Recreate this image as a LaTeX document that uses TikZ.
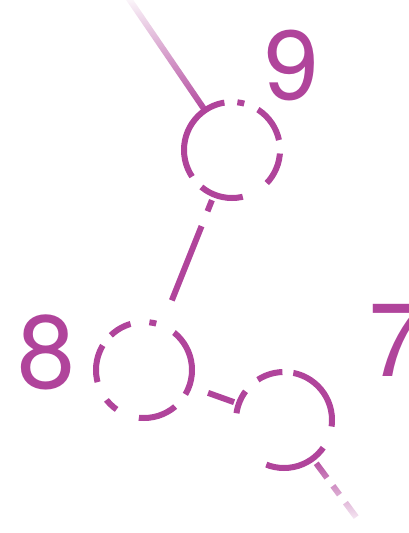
\documentclass[tikz,border=0pt]{standalone}
\usepackage{fontspec}
\setmainfont{TeX Gyre Heros}
\usepackage{tikz}
\usetikzlibrary{fadings}
\definecolor{plum}{HTML}{B0449B}
\tikzfading[name=fade up, top color=transparent!100, bottom color=transparent!0]
\tikzfading[name=fade down, top color=transparent!0, bottom color=transparent!100]

\begin{document}
\begin{tikzpicture}[x=1pt,y=-1pt,
    ring/.style={circle,draw=plum,line width=6pt,minimum size=96pt,inner sep=0pt,outer sep=0pt},
    num/.style={text=plum,inner sep=0pt,font=\fontsize{104}{104}\selectfont},
    link/.style={draw=plum,line width=6pt}]
  \useasboundingbox (0,0) rectangle (408,533);
  % broken rings, dashes counted from east, anticlockwise
  \node[ring,dash pattern=on 0pt off 10pt on 38pt off 15pt on 7pt off 13pt on 96pt off 14pt on 44pt off 28pt on 33pt off 3pt] (n9) at (232,150) {};
  \node[ring,dash pattern=on 43pt off 20pt on 7pt off 19pt on 23pt off 13pt on 38pt off 20pt on 14pt off 24pt on 39pt off 16pt on 25pt off 0pt] (n8) at (144,370) {};
  \node[ring,dash pattern=on 66pt off 11pt on 26pt off 17pt on 24pt off 64pt on 64pt off 23pt on 7pt off 0pt] (n7) at (284,420) {};
  \node[num,font=\fontsize{98}{98}\selectfont] (l9) at (292,65) {9};
  \node[num] (l8) at (46,352) {8};
  \node[num] (l7) at (397,340) {7};
  \coordinate (top) at (127,-4);
  \coordinate (tail) at (362,525);
  \draw[link,path fading=fade up] (top) -- (n9);
  \draw[link,shorten <=6pt,shorten >=24pt,dash pattern=on 12pt off 16pt on 80pt off 40pt] (n9) -- (n8);
  \draw[link,shorten <=20pt,shorten >=5pt] (n8) -- (n7);
  \draw[link,path fading=fade down,shorten <=6pt,dash pattern=on 18pt off 10pt on 11pt off 10pt] (n7) -- (tail);
\end{tikzpicture}
\end{document}
